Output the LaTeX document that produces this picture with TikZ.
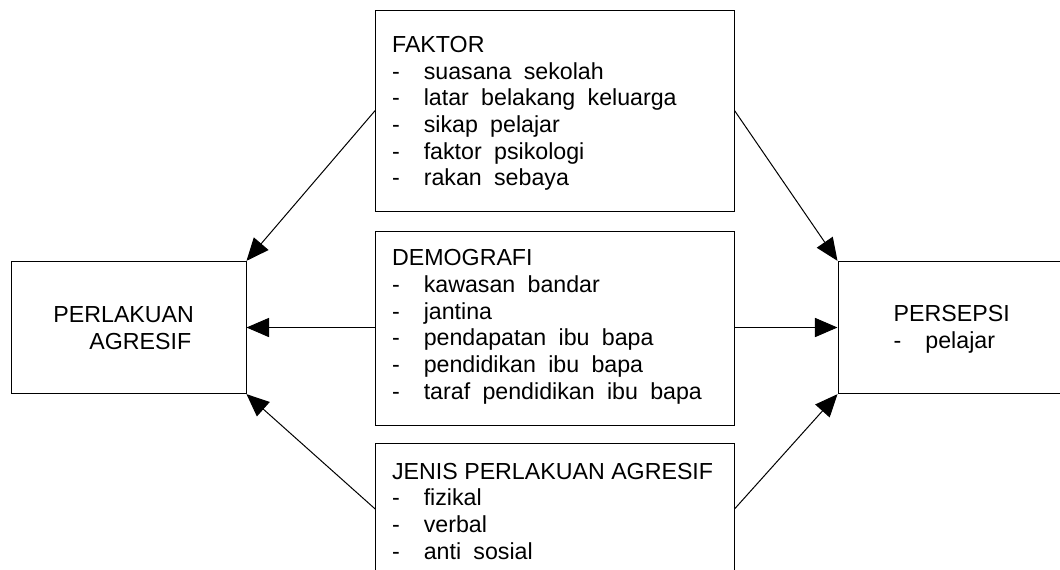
\documentclass[tikz,border=0pt]{standalone}
\usepackage{fontspec}
\setmainfont{Liberation Sans}
\usetikzlibrary{arrows.meta, positioning, calc}

\newcommand{\itm}[1]{\makebox[15.85pt][l]{-}{\spaceskip=0.53em\relax #1}}

\begin{document}
\begin{tikzpicture}[x=0.5pt, y=-0.5pt, >={Triangle[length=11.3pt, width=9.6pt]},
    box/.style={draw, line width=0.5pt, inner sep=0pt},
    txt/.style={align=left, inner sep=0pt, anchor=base west, font=\fontsize{11.6pt}{13.35pt}\selectfont}]
    \useasboundingbox (0, 0) rectangle (1060, 569);

    % boxes
    \node[box, minimum width=179.15pt, minimum height=100.5pt] (faktor) at (554.85, 110.5) {};
    \node[box, minimum width=179.15pt, minimum height=97pt] (demografi) at (554.85, 328) {};
    \node[box, minimum width=179.15pt, minimum height=66pt] (jenis) at (554.85, 509) {};
    \node[box, minimum width=117.15pt, minimum height=66.15pt] (perlakuan) at (128.85, 327.5) {};
    \node[box, minimum width=131pt, minimum height=66.15pt] (persepsi) at (969, 327.5) {};

    % texts (anchored on the baseline of the last line)
    \node[txt] (faktortxt) at (391.7, 185.8) {FAKTOR\\ \itm{suasana sekolah}\\ \itm{latar belakang keluarga}\\ \itm{sikap pelajar}\\ \itm{faktor psikologi}\\ \itm{rakan sebaya}};
    \node[txt] (demografitxt) at (391.7, 399.2) {DEMOGRAFI\\ \itm{kawasan bandar}\\ \itm{jantina}\\ \itm{pendapatan ibu bapa}\\ \itm{pendidikan ibu bapa}\\ \itm{taraf pendidikan ibu bapa}};
    \node[txt] (jenistxt) at (391.7, 559.1) {JENIS PERLAKUAN AGRESIF\\ \itm{fizikal}\\ \itm{verbal}\\ \itm{anti sosial}};
    \node[txt] (perlakuantxt) at (53, 349.4) {PERLAKUAN\\ \hspace*{18pt}AGRESIF};
    \node[txt] (persepsitxt) at (893.3, 348.4) {PERSEPSI\\ \itm{pelajar}};

    % arrows
    \draw[->, line width=0.5pt] (faktor.west) -- (perlakuan.north east);
    \draw[->, line width=0.5pt] (faktor.east) -- (persepsi.north west);
    \draw[->, line width=0.5pt] (perlakuan.east -| demografi.west) -- (perlakuan.east);
    \draw[->, line width=0.5pt] (persepsi.west -| demografi.east) -- (persepsi.west);
    \draw[->, line width=0.5pt] (jenis.west) -- (perlakuan.south east);
    \draw[->, line width=0.5pt] (jenis.east) -- (persepsi.south west);
\end{tikzpicture}
\end{document}
